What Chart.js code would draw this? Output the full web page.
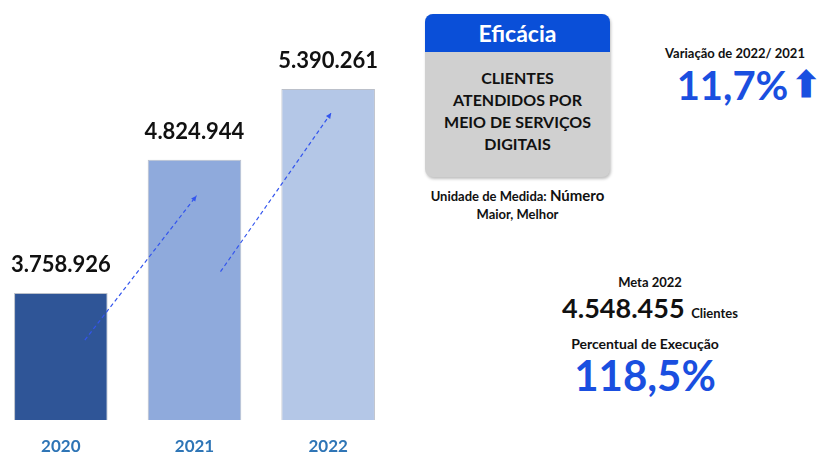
<!DOCTYPE html>
<html>
<head>
<meta charset="utf-8">
<script src="https://cdn.jsdelivr.net/npm/chart.js@4"></script>
<style>
  body { margin: 0; width: 820px; height: 454px; background: #fff; position: relative; overflow: hidden; font-family: Lato, "Open Sans", sans-serif; font-weight: bold; color: #111; }
  #chartBox { position: absolute; left: -6px; top: 0; width: 401px; height: 454px; }
  .abs { position: absolute; text-align: center; white-space: nowrap; }
  #card { position: absolute; left: 425px; top: 14px; width: 185px; height: 163px; border-radius: 8px; overflow: hidden; background: #d0d0d0; box-shadow: 1px 2px 3px rgba(0,0,0,0.25); }
  #card .head { background: #0a4fd8; color: #fff; height: 38px; line-height: 38px; font-size: 23px; text-align: center; }
  #card .body { padding-top: 15px; font-size: 16px; line-height: 22px; text-align: center; color: #111; }
  .blue { color: #1a4fe0; }
</style>
</head>
<body>
<div id="chartBox"><canvas id="barChart"></canvas></div>

<div id="card">
  <div class="head">Eficácia</div>
  <div class="body">CLIENTES<br>ATENDIDOS POR<br>MEIO DE SERVIÇOS<br>DIGITAIS</div>
</div>

<div class="abs" style="left:405px; top:186px; width:225px; font-size:13px; line-height:18px;">Unidade de Medida: <span style="font-size:15px">Número</span><br>Maior, Melhor</div>

<div class="abs" style="left:650px; top:45px; width:170px; font-size:13px;">Variação de 2022/ 2021</div>
<div class="abs blue" style="left:676px; top:62px; width:146px; font-size:40px; line-height:46px;">11,7%<span style="font-size:36px; margin-left:3px; vertical-align:top; position:relative; top:-2px;">&#x2B06;</span></div>

<div class="abs" style="left:560px; top:274px; width:180px; font-size:13px;">Meta 2022</div>
<div class="abs" style="left:540px; top:292px; width:220px; font-size:27px; line-height:32px;">4.548.455 <span style="font-size:13px">Clientes</span></div>
<div class="abs" style="left:545px; top:335px; width:200px; font-size:14px;">Percentual de Execução</div>
<div class="abs blue" style="left:545px; top:350px; width:200px; font-size:42px; line-height:50px;">118,5%</div>

<script>
const years = ["2020", "2021", "2022"];
const clientes = [3758926, 4824944, 5390261];
const barColors = ["#2f5597", "#8faadc", "#b4c7e7"];

// setas tracejadas: [barra origem, dx, dy, barra destino, dx, dy] em px relativos ao topo da barra
const arrows = [
  [0, 24, 47, 1, 2, 36],
  [1, 26, 112, 2, 3, 24]
];

function fmt(n) {
  return String(n).replace(/\B(?=(\d{3})+(?!\d))/g, ".");
}

const labelsPlugin = {
  id: "labelsPlugin",
  afterDraw(chart) {
    const ctx = chart.ctx;
    const bars = chart.getDatasetMeta(0).data;
    const bottom = chart.chartArea.bottom;
    ctx.save();
    // valores acima das barras
    ctx.textAlign = "center";
    ctx.textBaseline = "middle";
    ctx.fillStyle = "#111";
    ctx.font = "bold 22px Lato, 'Open Sans', sans-serif";
    bars.forEach((b, i) => ctx.fillText(fmt(clientes[i]), b.x, b.y - 28));
    // anos
    ctx.fillStyle = "#2e75b6";
    ctx.font = "bold 17px Lato, 'Open Sans', sans-serif";
    bars.forEach((b, i) => ctx.fillText(years[i], b.x, bottom + 27));
    // setas
    ctx.strokeStyle = "#3355ee";
    ctx.fillStyle = "#3355ee";
    ctx.lineWidth = 1.2;
    arrows.forEach(a => {
      const x1 = bars[a[0]].x + a[1], y1 = bars[a[0]].y + a[2];
      const x2 = bars[a[3]].x + a[4], y2 = bars[a[3]].y + a[5];
      ctx.setLineDash([4, 3]);
      ctx.beginPath();
      ctx.moveTo(x1, y1);
      ctx.lineTo(x2, y2);
      ctx.stroke();
      ctx.setLineDash([]);
      const ang = Math.atan2(y2 - y1, x2 - x1);
      ctx.beginPath();
      ctx.moveTo(x2, y2);
      ctx.lineTo(x2 - 6 * Math.cos(ang - 0.45), y2 - 6 * Math.sin(ang - 0.45));
      ctx.lineTo(x2 - 6 * Math.cos(ang + 0.45), y2 - 6 * Math.sin(ang + 0.45));
      ctx.closePath();
      ctx.fill();
    });
    ctx.restore();
  }
};

new Chart(document.getElementById("barChart"), {
  type: "bar",
  data: {
    labels: years,
    datasets: [{
      data: clientes,
      backgroundColor: barColors,
      borderColor: "rgba(120,130,150,0.5)",
      borderWidth: 1,
      barPercentage: 0.7,
      categoryPercentage: 1
    }]
  },
  options: {
    responsive: true,
    maintainAspectRatio: false,
    animation: false,
    layout: { padding: { top: 40, bottom: 34, left: 0, right: 0 } },
    scales: {
      x: { display: false },
      y: { display: false, min: 2744000, max: 5782000 }
    },
    plugins: { legend: { display: false }, tooltip: { enabled: false } }
  },
  plugins: [labelsPlugin]
});
</script>
</body>
</html>
